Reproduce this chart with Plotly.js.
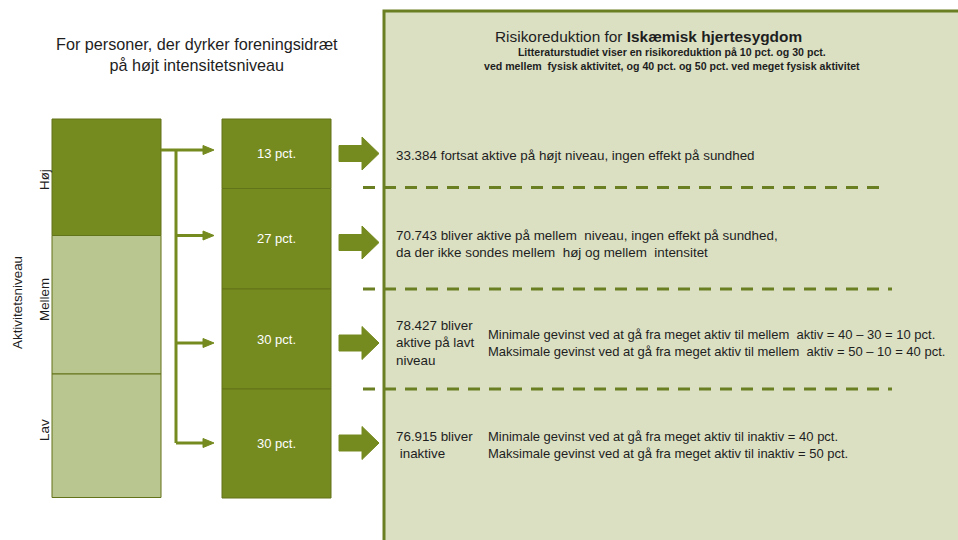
<!DOCTYPE html>
<html>
<head>
<meta charset="utf-8">
<script src="https://cdn.plot.ly/plotly-3.0.1.min.js"></script>
<style>html,body{margin:0;padding:0;background:#fff;}#chart{width:958px;height:540px;}</style>
</head>
<body>
<div id="chart"></div>
<script>
// ---------- data ----------
const levels = ['Høj', 'Mellem', 'Lav'];
const levelAxisTitle = 'Aktivitetsniveau';
const leftTitle = ['For personer, der dyrker foreningsidræt', 'på højt intensitetsniveau'];
const pctShares = [13, 27, 30, 30];
const pctLabels = pctShares.map(v => v + ' pct.');
const panelTitle = 'Risikoreduktion for <b>Iskæmisk hjertesygdom</b>';
const panelSub = ['Litteraturstudiet viser en risikoreduktion på 10 pct. og 30 pct.',
                  'ved mellem  fysisk aktivitet, og 40 pct. og 50 pct. ved meget fysisk aktivitet'];
const outcomeLeft = [
  ['33.384 fortsat aktive på højt niveau, ingen effekt på sundhed'],
  ['70.743 bliver aktive på mellem  niveau, ingen effekt på sundhed,', 'da der ikke sondes mellem  høj og mellem  intensitet'],
  ['78.427 bliver', 'aktive på lavt', 'niveau'],
  ['76.915 bliver', ' inaktive']
];
const outcomeRight = [
  null,
  null,
  ['Minimale gevinst ved at gå fra meget aktiv til mellem  aktiv = 40 – 30 = 10 pct.',
   'Maksimale gevinst ved at gå fra meget aktiv til mellem  aktiv = 50 – 10 = 40 pct.'],
  ['Minimale gevinst ved at gå fra meget aktiv til inaktiv = 40 pct.',
   'Maksimale gevinst ved at gå fra meget aktiv til inaktiv = 50 pct.']
];

// ---------- layout geometry (pixel-like coordinates) ----------
const DARK = '#758A1F', LIGHT = '#BAC68F', EDGE = '#627319', PANEL = '#DBE0C3', PANEL_EDGE = '#6A7E22';
const TXT = '#1E1E1E';
const FONT = 'Liberation Sans, Arial, sans-serif';
const colA = {x0: 52, x1: 161, edges: [119, 235.5, 374, 497.5], fills: [DARK, LIGHT, LIGHT]};
const colB = {x0: 222, x1: 331, edges: [119, 188.5, 289, 389, 498]};
const branchY = [150, 235.5, 343, 443];
const blockY = [153.5, 242.5, 343, 443];
const dashY = [187.5, 289, 389];
const textY = [155, 243.5, 343, 445];

const traces = [];
// left column (activity level) boxes as bars
traces.push({
  type: 'bar', x: levels.map(() => (colA.x0 + colA.x1) / 2), width: levels.map(() => colA.x1 - colA.x0),
  base: levels.map((l, i) => colA.edges[i]), y: levels.map((l, i) => colA.edges[i + 1] - colA.edges[i]),
  marker: {color: colA.fills, line: {color: EDGE, width: 1}}, hoverinfo: 'skip', showlegend: false
});
// second column (distribution) boxes as bars
traces.push({
  type: 'bar', x: pctShares.map(() => (colB.x0 + colB.x1) / 2), width: pctShares.map(() => colB.x1 - colB.x0),
  base: pctShares.map((p, i) => colB.edges[i]), y: pctShares.map((p, i) => colB.edges[i + 1] - colB.edges[i]),
  marker: {color: DARK, line: {color: EDGE, width: 1}},
  text: pctLabels, textposition: 'inside', insidetextanchor: 'middle',
  textfont: {color: '#FFFFFF', size: 13, family: FONT}, hoverinfo: 'skip', showlegend: false
});

const shapes = [];
// right panel
shapes.push({type: 'rect', xref: 'x', yref: 'y', x0: 384, x1: 975, y0: 11, y1: 560,
  fillcolor: PANEL, line: {color: PANEL_EDGE, width: 3}, layer: 'below'});
// connectors
const lineStyle = {color: DARK, width: 3};
shapes.push({type: 'line', x0: colA.x1, x1: 205, y0: branchY[0], y1: branchY[0], line: lineStyle});
shapes.push({type: 'line', x0: 176, x1: 176, y0: branchY[0], y1: branchY[3], line: lineStyle});
branchY.slice(1).forEach(y => shapes.push({type: 'line', x0: 176, x1: 205, y0: y, y1: y, line: lineStyle}));
branchY.forEach(y => shapes.push({type: 'path', path: `M 203 ${y - 4.5} L 214 ${y} L 203 ${y + 4.5} Z`,
  fillcolor: DARK, line: {color: DARK, width: 1}}));
// block arrows
blockY.forEach(y => shapes.push({type: 'path',
  path: `M 339 ${y - 8} L 362 ${y - 8} L 362 ${y - 16.5} L 379 ${y} L 362 ${y + 16.5} L 362 ${y + 8} L 339 ${y + 8} Z`,
  fillcolor: DARK, line: {color: DARK, width: 1}}));
// dashed separators
dashY.forEach((y, i) => shapes.push({type: 'line', x0: 363, x1: i === 0 ? 886 : 892, y0: y, y1: y,
  line: {color: PANEL_EDGE, width: 3, dash: '12px,9px'}}));

const annotations = [];
const ann = (x, y, text, opt) => Object.assign({x, y, xref: 'x', yref: 'y', text, showarrow: false,
  font: {family: FONT, size: 13.4, color: TXT}, xanchor: 'left', yanchor: 'middle', align: 'left'}, opt || {});
annotations.push(ann(197, 54, leftTitle.join('<br>'), {xanchor: 'center', align: 'center', font: {family: FONT, size: 16.2, color: TXT}}));
annotations.push(ann(17, 303, levelAxisTitle, {xanchor: 'center', textangle: -90, font: {family: FONT, size: 13.4, color: TXT}}));
const levelCenters = [180, 300, 430];
levels.forEach((l, i) => annotations.push(ann(44, levelCenters[i], l, {xanchor: 'center', textangle: -90})));
annotations.push(ann(648, 36, panelTitle, {xanchor: 'center', align: 'center', font: {family: FONT, size: 15.4, color: TXT}}));
annotations.push(ann(672, 59, panelSub.map(s => '<b>' + s + '</b>').join('<br>'),
  {xanchor: 'center', align: 'center', font: {family: FONT, size: 10.6, color: TXT}}));
outcomeLeft.forEach((lines, i) => {
  annotations.push(ann(394, textY[i], lines.join('<br>')));
  if (outcomeRight[i]) annotations.push(ann(486, textY[i], outcomeRight[i].join('<br>'),
    {font: {family: FONT, size: 13, color: TXT}}));
});

const layout = {
  width: 958, height: 540, margin: {l: 0, r: 0, t: 0, b: 0},
  paper_bgcolor: '#FFFFFF', plot_bgcolor: 'rgba(0,0,0,0)', barmode: 'overlay',
  xaxis: {range: [0, 958], visible: false, fixedrange: true},
  yaxis: {range: [540, 0], visible: false, fixedrange: true},
  shapes, annotations, showlegend: false, font: {family: FONT}
};
Plotly.newPlot('chart', traces, layout, {displayModeBar: false, staticPlot: true});
</script>
</body>
</html>
